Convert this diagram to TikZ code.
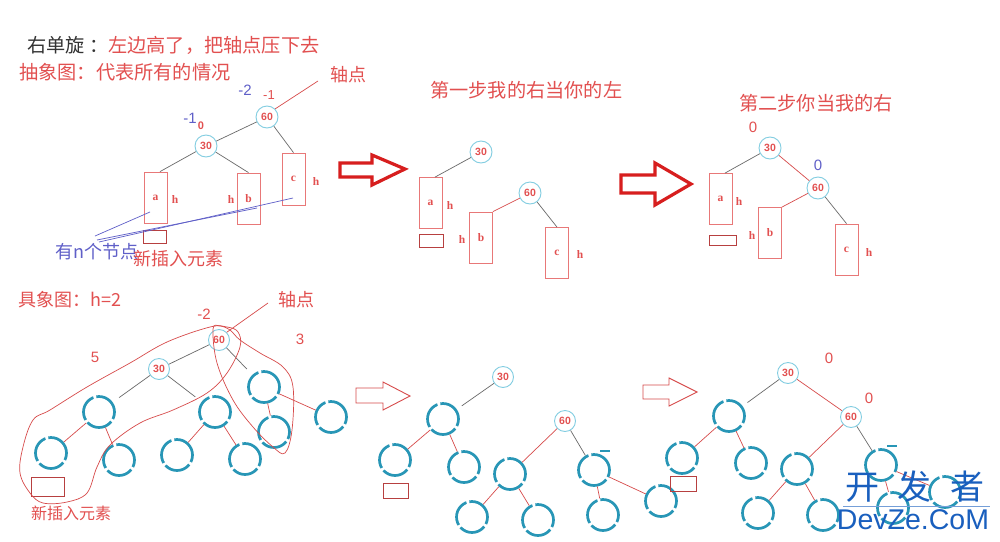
\documentclass[tikz,border=0pt]{standalone}
\usepackage{fontspec}
\newfontfamily\cjk{Noto Sans CJK SC}
\newfontfamily\lsans{Liberation Sans}
\newfontfamily\lserif{Liberation Serif}
\definecolor{tred}{RGB}{226,80,80}
\definecolor{bred}{RGB}{232,120,120}
\definecolor{lred}{RGB}{215,75,75}
\definecolor{gline}{RGB}{105,105,105}
\definecolor{cy}{RGB}{130,205,225}
\definecolor{teal2}{RGB}{40,150,182}
\definecolor{tblue}{RGB}{95,95,200}
\definecolor{wblue}{RGB}{25,95,190}
\definecolor{arrred}{RGB}{215,30,30}
\begin{document}
\begin{tikzpicture}[x=1pt,y=-1pt,
 cjkt/.style={font=\cjk\fontsize{18}{18}\selectfont, text=tred, inner sep=0, anchor=west},
 cjkb/.style={cjkt, font=\cjk\fontsize{19.2}{19.2}\selectfont},
 num/.style={font=\lsans\fontsize{15}{15}\selectfont, inner sep=0},
 tn/.style={circle, draw=cy, line width=0.9, minimum size=22, inner sep=0, font=\lsans\bfseries\fontsize{10.5}{10.5}\selectfont, text=tred},
 bn/.style={tn, minimum size=21},
 bx/.style={draw=bred, line width=0.8, minimum width=23, minimum height=51, inner sep=0, font=\lserif\bfseries\fontsize{11.5}{11.5}\selectfont, text=tred},
 sbx/.style={draw=lred!85!black, line width=0.8, minimum width=24, minimum height=13, inner sep=0},
 hl/.style={font=\lserif\bfseries\fontsize{11.5}{11.5}\selectfont, text=tred, inner sep=0},
 ring/.style={circle, draw=teal2, line width=2.7, minimum size=31, inner sep=0, dash pattern=on 27pt off 3pt},
 gl/.style={draw=gline, line width=0.7},
 rl/.style={draw=lred, line width=0.7},
 bl/.style={draw=tblue, line width=0.7},
 bigarr/.style={draw=arrred, line width=3.2, line join=miter},
 thinarr/.style={draw=lred, line width=0.9},
 loopline/.style={draw=lred, line width=0.7},
]
\useasboundingbox (0,0) rectangle (1000,541);
\fill[white] (0,0) rectangle (1000,541);

% ---------------- top left ----------------
\node[cjkb] (t1) at (27,45) {\textcolor{black!80}{右单旋 ：}左边高了，把轴点压下去};
\node[cjkb] (t2) at (19,72) {抽象图：代表所有的情况};
\node[cjkt] (ax1) at (330,75) {轴点};
\node[num, text=tblue] (m2a) at (245,90) {-2};
\node[num, text=tred, font=\lsans\fontsize{13}{13}\selectfont] (m1a) at (269,95) {-1};
\node[num, text=tblue] (m1b) at (190,118) {-1};
\node[num, text=tred, font=\lsans\bfseries\fontsize{11}{11}\selectfont] (z1) at (201,126) {0};

\node[tn] (n60a) at (267,117) {60};
\node[tn] (n30a) at (206,146) {30};
\node[bx] (a1) at (155.5,197.5) {a};
\node[bx] (b1) at (248.5,198.5) {b};
\node[bx, minimum height=52] (c1) at (293.5,179) {c};
\node[sbx, minimum width=23] (s1) at (154.5,236.5) {};
\node[hl] (h1a) at (175,200) {h};
\node[hl] (h1b) at (231,200) {h};
\node[hl] (h1c) at (316,182) {h};

\draw[gl] (n60a) -- (n30a);
\draw[gl] (n30a) -- ([xshift=4.5pt]a1.north);
\draw[gl] (n30a) -- (b1.north);
\draw[gl] (n60a) -- (c1.north);
\coordinate (ax1e) at (318,81);
\draw[rl] (n60a.north east) -- (ax1e);

\node[cjkt, text=tblue] (nn) at (55,252) {有n个节点};
\node[cjkt] (new1) at (133,259) {新插入元素};
\coordinate (p1) at (95,236);
\coordinate (p2) at (97,240);
\coordinate (p3) at (99,242);
\coordinate (q1) at (150,212);
\coordinate (q2) at (257,208);
\coordinate (q3) at (293,198);
\draw[bl] (p1) -- (q1);
\draw[bl] (p2) -- (q2);
\draw[bl] (p3) -- (q3);

% big arrow 1
\draw[bigarr] (340,163) -- (372,163) -- (372,155) -- (405,169) -- (372,185) -- (372,177) -- (340,177) -- cycle;

% ---------------- top middle ----------------
\node[cjkb] (t3) at (430,90) {第一步我的右当你的左};
\node[tn] (n30b) at (481,152) {30};
\node[tn] (n60b) at (530,193) {60};
\node[bx] (a2) at (430.5,203) {a};
\node[sbx] (s2) at (431,241) {};
\node[bx] (b2) at (481,237.5) {b};
\node[bx] (c2) at (557,253) {c};
\node[hl] (h2a) at (450,206) {h};
\node[hl] (h2b) at (462,240) {h};
\node[hl] (h2c) at (580,255) {h};
\draw[gl] (n30b) -- ([xshift=4.5pt]a2.north);
\draw[rl] (n60b) -- (b2.north east);
\draw[gl] (n60b) -- (c2.north);

% big arrow 2
\draw[bigarr] (621,175) -- (655,175) -- (655,163) -- (691,184) -- (655,205) -- (655,193) -- (621,193) -- cycle;

% ---------------- top right ----------------
\node[cjkb] (t4) at (739,103) {第二步你当我的右};
\node[num, text=tred] (z2) at (753,127) {0};
\node[num, text=tblue] (z3) at (818,165) {0};
\node[tn] (n30c) at (770,148) {30};
\node[tn] (n60c) at (818,188) {60};
\node[bx] (a3) at (720.5,199) {a};
\node[sbx, minimum width=27, minimum height=10] (s3) at (722.5,240) {};
\node[bx] (b3) at (770,233) {b};
\node[bx] (c3) at (846.5,249.5) {c};
\node[hl] (h3a) at (739,202) {h};
\node[hl] (h3b) at (752,236) {h};
\node[hl] (h3c) at (869,253) {h};
\draw[gl] (n30c) -- ([xshift=4.5pt]a3.north);
\draw[rl] (n30c) -- (n60c);
\draw[rl] (n60c) -- (b3.north east);
\draw[gl] (n60c) -- (c3.north);

% ---------------- bottom left ----------------
\node[cjkt] (t5) at (18,300) {具象图：h=2};
\node[cjkt] (ax2) at (278,300) {轴点};
\node[num, text=tred] (m2b) at (204,314) {-2};
\node[num, text=tred] (n5) at (95,357) {5};
\node[num, text=tred] (n3) at (300,339) {3};
\node[bn] (n60d) at (219,340) {60};
\node[bn] (n30d) at (159,369) {30};
\node[ring] (C1) at (99,412) {};
\node[ring] (C2) at (51,453) {};
\node[ring] (C3) at (119,460) {};
\node[ring] (C4) at (215,412) {};
\node[ring] (C5) at (177,455) {};
\node[ring] (C6) at (245,459) {};
\node[ring] (C7) at (264,387) {};
\node[ring] (C8) at (274,432) {};
\node[ring] (C9) at (331,417) {};
\node[sbx, minimum width=33, minimum height=19] (s4) at (47.5,486.5) {};
\node[cjkt, font=\cjk\fontsize{16}{16}\selectfont] (new2) at (31,513) {新插入元素};
\draw[gl] (n60d) -- (n30d);
\draw[gl, shorten >=8pt] (n30d) -- (C1);
\draw[gl, shorten >=8pt] (n30d) -- (C4);
\draw[gl, shorten >=8pt] (n60d) -- (C7);
\draw[rl] (C1) -- (C2);
\draw[rl] (C1) -- (C3);
\draw[rl] (C4) -- (C5);
\draw[rl] (C4) -- (C6);
\draw[rl] (C7) -- (C8);
\draw[rl] (C7) -- (C9);
\coordinate (ax2e) at (268,303);
\draw[rl] (n60d.north east) -- (ax2e);
\draw[loopline] plot[smooth cycle, tension=0.6] coordinates {(210,327) (167,342) (130,363) (87,387) (50,410) (33,420) (23,447) (20,473) (30,493) (43,503) (67,502) (87,493) (97,467) (110,445) (140,423) (173,410) (207,393) (227,373) (240,347) (238,332) (227,327)};
\draw[loopline] plot[smooth cycle, tension=0.6] coordinates {(213,329) (217,363) (233,400) (253,427) (273,447) (285,453) (292,430) (293,387) (283,367) (260,353) (240,340) (230,330) (220,326)};

% arrow 3
\draw[thinarr] (356,388) -- (383,388) -- (383,382) -- (410,396) -- (383,410) -- (383,403) -- (356,403) -- cycle;

% ---------------- bottom middle ----------------
\node[bn] (n30e) at (503,377) {30};
\node[bn] (n60e) at (565,421) {60};
\node[ring] (D1) at (443,419) {};
\node[ring] (D2) at (395,460) {};
\node[ring] (D3) at (464,467) {};
\node[ring] (D4) at (510,474) {};
\node[ring] (D5) at (472,517) {};
\node[ring] (D6) at (538,520) {};
\node[ring] (D7) at (594,470) {};
\node[ring] (D8) at (603,515) {};
\node[ring] (D9) at (661,501) {};
\node[sbx, minimum width=25, minimum height=15] (s5) at (395.5,490.5) {};
\draw[gl, shorten >=6pt] (n30e) -- (D1);
\draw[rl] (D1) -- (D2);
\draw[rl] (D1) -- (D3);
\draw[rl] (n60e) -- (D4);
\draw[gl] (n60e) -- (D7);
\draw[rl] (D4) -- (D5);
\draw[rl] (D4) -- (D6);
\draw[rl] (D7) -- (D8);
\draw[rl] (D7) -- (D9);
\draw[draw=teal2, line width=1.5] ([shift={(6,-2)}]D7.north) -- ([shift={(16,-2)}]D7.north);

% arrow 4
\draw[thinarr] (643,385) -- (669,385) -- (669,378) -- (697,392) -- (669,406) -- (669,399) -- (643,399) -- cycle;

% ---------------- bottom right ----------------
\node[num, text=tred] (z4) at (829,358) {0};
\node[num, text=tred] (z5) at (869,398) {0};
\node[bn] (n30f) at (788,373) {30};
\node[bn] (n60f) at (851,417) {60};
\node[ring] (E1) at (729,416) {};
\node[ring] (E2) at (682,458) {};
\node[ring] (E3) at (751,463) {};
\node[ring] (E4) at (797,469) {};
\node[ring] (E5) at (758,513) {};
\node[ring] (E6) at (823,515) {};
\node[ring] (E7) at (881,465) {};
\node[ring] (E8) at (893,508) {};
\node[ring] (E9) at (945,492) {};
\node[sbx, minimum width=26, minimum height=15] (s6) at (683,483.5) {};
\draw[gl, shorten >=6pt] (n30f) -- (E1);
\draw[rl] (n30f) -- (n60f);
\draw[rl] (E1) -- (E2);
\draw[rl] (E1) -- (E3);
\draw[rl] (n60f) -- (E4);
\draw[gl] (n60f) -- (E7);
\draw[rl] (E4) -- (E5);
\draw[rl] (E4) -- (E6);
\draw[rl] (E7) -- (E8);
\draw[rl] (E7) -- (E9);
\draw[draw=teal2, line width=1.5] ([shift={(6,-2)}]E7.north) -- ([shift={(16,-2)}]E7.north);

% ---------------- watermark ----------------
\node[font=\cjk\fontsize{34}{34}\selectfont, text=wblue, inner sep=0] (wm1) at (915,487) {开\hspace{19pt}发\hspace{19pt}者};
\coordinate (wl1) at (843,506);
\coordinate (wl2) at (990,506);
\draw[wblue!60, line width=0.6] (wl1) -- (wl2);
\node[font=\lsans\fontsize{28.5}{28.5}\selectfont, text=wblue, inner sep=0] (wm2) at (913,520) {DevZe.CoM};
\end{tikzpicture}
\end{document}
